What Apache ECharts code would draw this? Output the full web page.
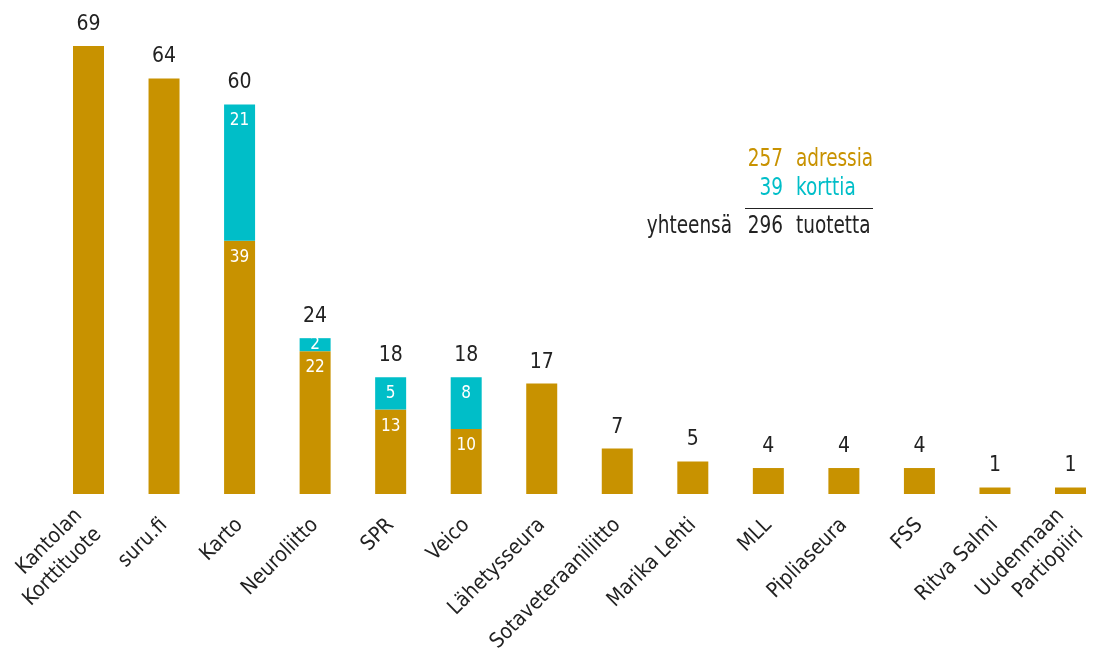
<!DOCTYPE html>
<html>
<head>
<meta charset="utf-8">
<script src="https://cdn.jsdelivr.net/npm/echarts@6/dist/echarts.min.js"></script>
<style>
html,body{margin:0;padding:0;background:#fff;}
#chart{width:1103px;height:649px;}
</style>
</head>
<body>
<div id="chart"></div>
<script>
const categories = ['Kantolan\nKorttituote', 'suru.fi', 'Karto', 'Neuroliitto', 'SPR', 'Veico', 'Lähetysseura', 'Sotaveteraaniliitto', 'Marika Lehti', 'MLL', 'Pipliaseura', 'FSS', 'Ritva Salmi', 'Uudenmaan\nPartiopiiri'];
const adressiValues = [69, 64, 39, 22, 13, 10, 17, 7, 5, 4, 4, 4, 1, 1];
const korttiValues = [0, 0, 21, 2, 5, 8, 0, 0, 0, 0, 0, 0, 0, 0];
const summaryNumbers = ['257', '39', '296'];
const summaryWords = ['adressia', 'korttia', 'tuotetta'];
const summaryLabel = 'yhteensä';

const totals = adressiValues.map((v, i) => v + korttiValues[i]);
const GOLD = '#C89200';
const CYAN = '#00BEC8';
const DARK = '#222222';
const FONT = "'DejaVu Sans Condensed','DejaVu Sans',sans-serif";

const chart = echarts.init(document.getElementById('chart'), null, {renderer: 'canvas'});

const cyanData = korttiValues.map(v => {
  if (v > 0 && v < 4) return {value: v, label: {position: 'inside'}};
  return v;
});

function txt(opts) {
  return {
    type: 'text', x: opts.x, y: opts.y, scaleX: 0.82, silent: true,
    style: {
      text: opts.text, fill: opts.fill,
      font: '25px ' + FONT,
      textAlign: opts.align || 'left', textVerticalAlign: 'middle'
    }
  };
}

chart.setOption({
  animation: false,
  textStyle: {fontFamily: FONT},
  grid: {left: 88.5, right: 32.5, top: 46, bottom: 155, containLabel: false, outerBoundsMode: 'none'},
  xAxis: {
    type: 'category',
    data: categories,
    boundaryGap: false,
    axisLine: {show: false},
    axisTick: {show: false},
    axisLabel: {
      rotate: 45,
      interval: 0,
      margin: 28,
      color: DARK,
      fontSize: 21,
      fontFamily: FONT,
      lineHeight: 27
    }
  },
  yAxis: {
    type: 'value',
    min: 0,
    max: 69,
    show: false,
    splitLine: {show: false}
  },
  series: [
    {
      name: 'adressia',
      type: 'bar',
      stack: 'tuotteet',
      barWidth: 31,
      data: adressiValues,
      itemStyle: {color: GOLD},
      label: {
        show: true,
        position: 'insideTop',
        distance: 8,
        color: '#fff',
        fontSize: 17,
        fontFamily: FONT,
        formatter: p => korttiValues[p.dataIndex] > 0 ? String(p.value) : ''
      }
    },
    {
      name: 'korttia',
      type: 'bar',
      stack: 'tuotteet',
      barWidth: 31,
      data: cyanData,
      itemStyle: {color: CYAN},
      label: {
        show: true,
        position: 'insideTop',
        distance: 8,
        color: '#fff',
        fontSize: 17,
        fontFamily: FONT,
        formatter: p => (p.value > 0 ? String(p.value) : '')
      }
    },
    {
      name: 'yhteensä',
      type: 'bar',
      barWidth: 31,
      barGap: '-100%',
      data: totals,
      z: 1,
      itemStyle: {color: 'rgba(0,0,0,0)'},
      label: {
        show: true,
        position: 'top',
        distance: 11,
        color: DARK,
        fontSize: 21,
        fontFamily: FONT
      }
    }
  ],
  graphic: [
    txt({x: 783, y: 159, text: summaryNumbers[0], fill: GOLD, align: 'right'}),
    txt({x: 796, y: 159, text: summaryWords[0], fill: GOLD}),
    txt({x: 783, y: 188, text: summaryNumbers[1], fill: CYAN, align: 'right'}),
    txt({x: 796, y: 188, text: summaryWords[1], fill: CYAN}),
    {type: 'line', silent: true, shape: {x1: 745, y1: 208.5, x2: 873, y2: 208.5}, style: {stroke: DARK, lineWidth: 1.2}},
    txt({x: 732, y: 226, text: summaryLabel, fill: DARK, align: 'right'}),
    txt({x: 783, y: 226, text: summaryNumbers[2], fill: DARK, align: 'right'}),
    txt({x: 796, y: 226, text: summaryWords[2], fill: DARK})
  ]
});
</script>
</body>
</html>
